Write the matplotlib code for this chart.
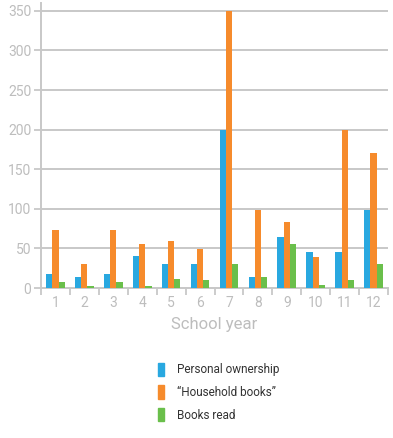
import numpy as np
import matplotlib.pyplot as plt
from matplotlib.patches import Rectangle

plt.rcParams['font.family'] = ['Roboto', 'DejaVu Sans']

years = ['1', '2', '3', '4', '5', '6', '7', '8', '9', '10', '11', '12']
personal = [18, 14, 18, 40, 30, 30, 200, 14, 65, 45, 45, 99]
household = [73, 30, 73, 55, 60, 49, 350, 99, 84, 39, 200, 170]
books_read = [7, 2, 7, 2, 12, 10, 30, 14, 55, 4, 10, 30]

series_names = ['Personal ownership', '\u201cHousehold books\u201d', 'Books read']
colors = ['#29a8e0', '#f68b2c', '#6abf4b']

grey = '#c8c8c8'
label_grey = '#bdbdbd'

fig = plt.figure(figsize=(3.93, 4.38), dpi=100)
ax = fig.add_axes([41 / 393, 1 - 288 / 438, 347 / 393, 285 / 438])

x = np.arange(len(years))
w = 0.215
for i, (vals, c) in enumerate(zip([personal, household, books_read], colors)):
    ax.bar(x + (i - 1) * w, vals, width=w, color=c, zorder=3)

ax.set_xlim(-0.5, len(years) - 0.5)
ax.set_ylim(0, 360)
ax.set_yticks(np.arange(0, 351, 50))
ax.yaxis.grid(True, color=grey, linewidth=1.4, zorder=0)

# labels centred on groups, ticks on group boundaries
ax.set_xticks(x)
ax.set_xticklabels(years)
ax.set_xticks(np.arange(-0.5, len(years)), minor=True)
ax.tick_params(axis='x', which='major', length=0, pad=6, labelsize=10, labelcolor=label_grey)
ax.tick_params(axis='x', which='minor', length=5, width=1.3, color=grey, direction='out')
ax.tick_params(axis='y', length=5, width=1.3, color=grey, labelsize=10, labelcolor=label_grey, pad=2)

for s in ['top', 'right']:
    ax.spines[s].set_visible(False)
for s in ['left', 'bottom']:
    ax.spines[s].set_color(grey)
    ax.spines[s].set_linewidth(1.4)

ax.set_xlabel('School year', fontsize=12, color=label_grey, labelpad=5)

handles = [Rectangle((0, 0), 1, 1, color=c) for c in colors]
fig.legend(handles, series_names, loc='upper left', bbox_to_anchor=(147 / 393, 1 - 352 / 438),
           frameon=False, fontsize=8.5, handlelength=0.5, handleheight=1.4,
           handletextpad=1.1, labelspacing=0.75, labelcolor='#333333')

fig.savefig('out.png', dpi=100)
